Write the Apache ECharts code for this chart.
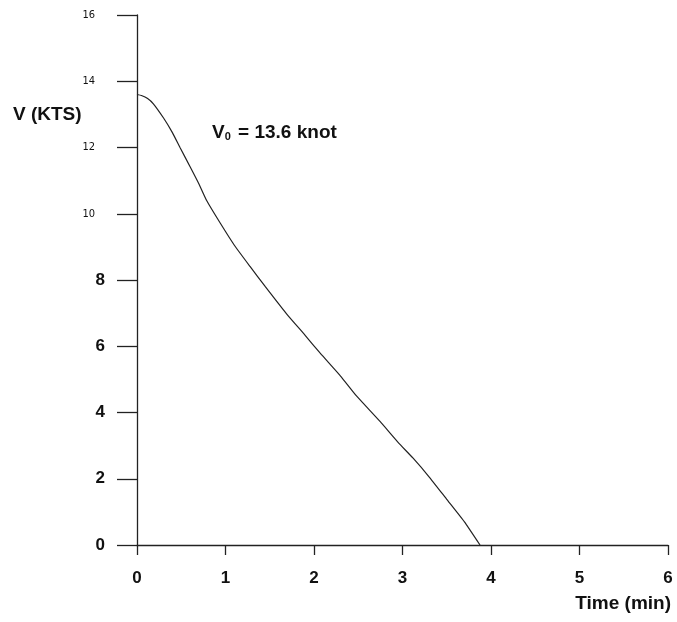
<!DOCTYPE html>
<html>
<head>
<meta charset="utf-8">
<script src="https://cdn.jsdelivr.net/npm/echarts@6/dist/echarts.min.js"></script>
<style>html,body{margin:0;padding:0;background:#fff;}#chart{width:677px;height:622px;}</style>
</head>
<body>
<div id="chart"></div>
<script>
// Data
const timeMin = [0, 0.05, 0.12, 0.185, 0.30, 0.40, 0.486, 0.60, 0.70, 0.787, 0.94, 1.10, 1.277, 1.45, 1.69, 1.90, 2.07, 2.30, 2.48, 2.746, 2.95, 3.12, 3.30, 3.50, 3.70, 3.876];
const speedKts = [13.6, 13.57, 13.48, 13.32, 12.89, 12.45, 12.0, 11.42, 10.9, 10.4, 9.72, 9.05, 8.41, 7.8, 6.98, 6.33, 5.79, 5.1, 4.5, 3.73, 3.1, 2.62, 2.06, 1.38, 0.7, 0.0];
const xTicks = [0, 1, 2, 3, 4, 5, 6];
const yTicks = [0, 2, 4, 6, 8, 10, 12, 14, 16];

const chart = echarts.init(document.getElementById('chart'));
chart.setOption({
  animation: false,
  backgroundColor: '#fff',
  grid: { left: 137, right: 9, top: 15, bottom: 77, containLabel: false },
  xAxis: {
    type: 'value', min: 0, max: 6, interval: 1,
    name: 'Time (min)', nameLocation: 'end', nameGap: 0,
    nameTextStyle: { fontFamily: 'Liberation Sans', fontWeight: 'bold', fontSize: 19, color: '#111', align: 'right', verticalAlign: 'top', padding: [49, -3, 0, 0] },
    axisLine: { show: true, lineStyle: { color: '#222', width: 1.3 } },
    axisTick: { show: true, inside: false, length: 10, lineStyle: { color: '#222', width: 1.3 } },
    splitLine: { show: false },
    axisLabel: { margin: 25, fontFamily: 'Liberation Sans', fontWeight: 'bold', fontSize: 17, color: '#111', formatter: v => xTicks.includes(v) ? String(v) : '' }
  },
  yAxis: {
    type: 'value', min: 0, max: 16, interval: 2,
    axisLine: { show: true, lineStyle: { color: '#222', width: 1.3 } },
    axisTick: { show: true, inside: false, length: 20, lineStyle: { color: '#222', width: 1.3 } },
    splitLine: { show: false },
    axisLabel: {
      margin: 32,
      formatter: v => {
        if (!yTicks.includes(v)) return '';
        return v >= 10 ? '{s|' + v + '}' : '{b|' + v + '}';
      },
      rich: {
        s: { fontFamily: 'DejaVu Sans Condensed', fontSize: 11, color: '#111', padding: [0, 10, 0, 0] },
        b: { fontFamily: 'Liberation Sans', fontWeight: 'bold', fontSize: 17, color: '#111' }
      }
    }
  },
  series: [{
    type: 'line',
    data: timeMin.map((t, i) => [t, speedKts[i]]),
    smooth: 0.15,
    showSymbol: false,
    lineStyle: { color: '#222', width: 1.2 }
  }],
  graphic: [
    { type: 'text', left: 13, top: 105, style: { text: 'V (KTS)', fontFamily: 'Liberation Sans', fontWeight: 'bold', fontSize: 19, fill: '#111' } },
    { type: 'text', left: 212, top: 123, style: {
      text: '{v|V}{sub|0}{v| = 13.6 knot}',
      rich: {
        v: { fontFamily: 'Liberation Sans', fontWeight: 'bold', fontSize: 19, fill: '#111' },
        sub: { fontFamily: 'Liberation Sans', fontWeight: 'bold', fontSize: 11, fill: '#111', verticalAlign: 'bottom', padding: [9, 2, 0, 0] }
      }
    } }
  ]
});
</script>
</body>
</html>
